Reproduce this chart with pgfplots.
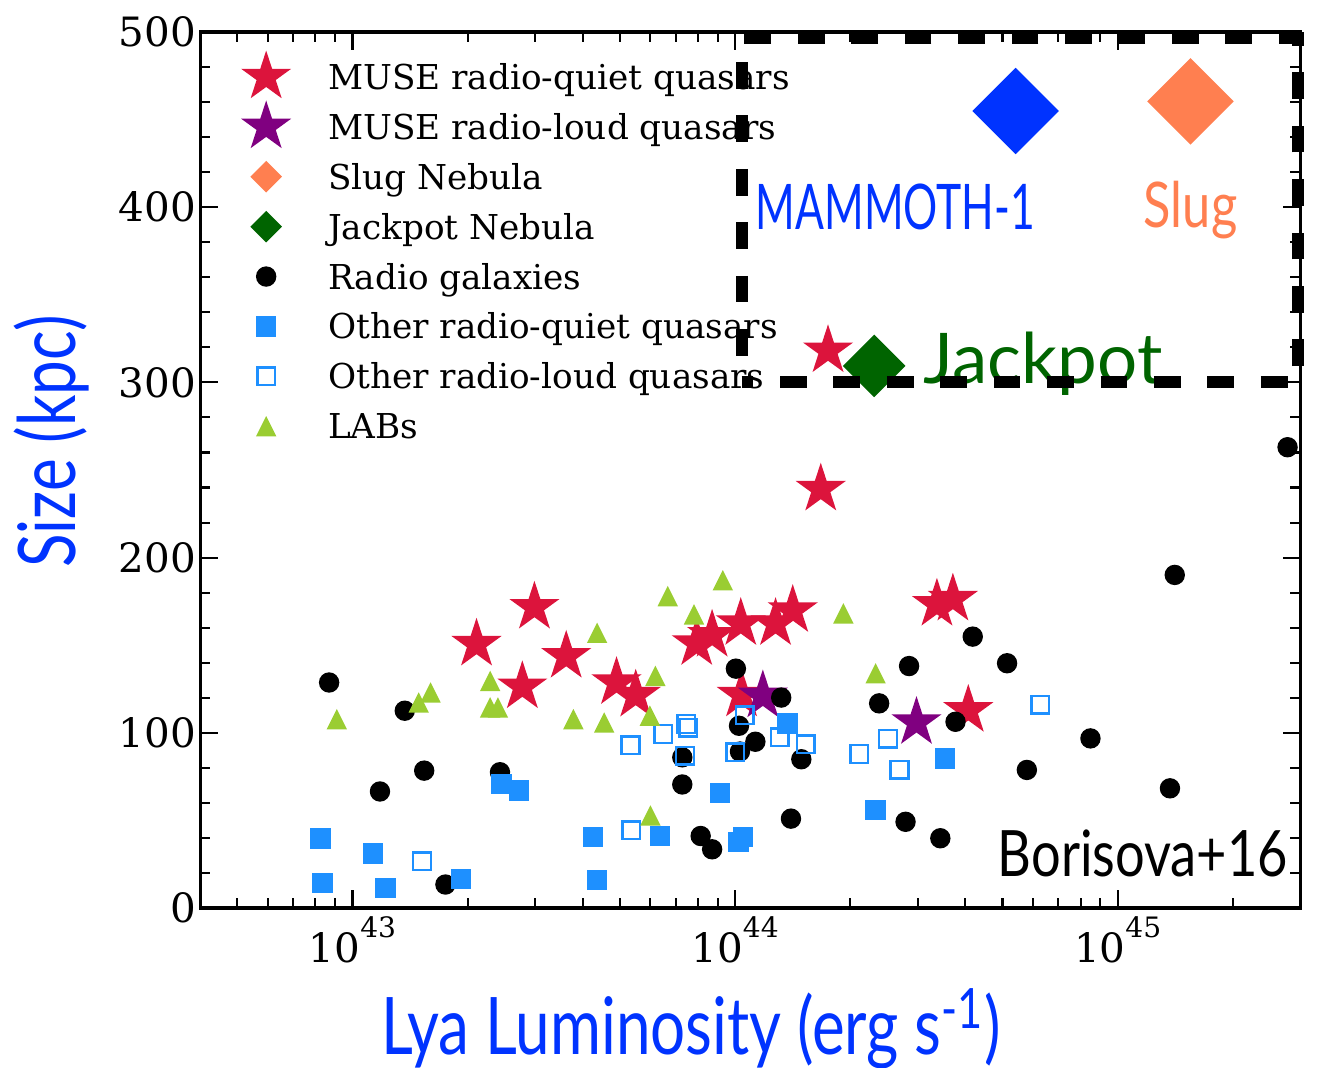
\documentclass[border=0pt]{standalone}
\usepackage{pgfplots}
\pgfplotsset{compat=1.18}
\usepackage{fontspec}
\setmainfont{DejaVu Serif}
\newfontfamily\labfont[FakeStretch=0.78]{Lato}
\usetikzlibrary{plotmarks}

\definecolor{crimson}{RGB}{220,20,60}
\definecolor{mpurple}{RGB}{128,0,128}
\definecolor{coral}{RGB}{255,127,80}
\definecolor{dgreen}{RGB}{0,100,0}
\definecolor{dodger}{RGB}{30,144,255}
\definecolor{ygreen}{RGB}{154,205,50}
\definecolor{mblue}{RGB}{0,51,255}

% filled five-pointed star
\pgfdeclareplotmark{pstar}{%
  \pgfpathmoveto{\pgfpointpolar{90}{\pgfplotmarksize}}%
  \pgfpathlineto{\pgfpointpolar{126}{0.382*\pgfplotmarksize}}%
  \pgfpathlineto{\pgfpointpolar{162}{\pgfplotmarksize}}%
  \pgfpathlineto{\pgfpointpolar{198}{0.382*\pgfplotmarksize}}%
  \pgfpathlineto{\pgfpointpolar{234}{\pgfplotmarksize}}%
  \pgfpathlineto{\pgfpointpolar{270}{0.382*\pgfplotmarksize}}%
  \pgfpathlineto{\pgfpointpolar{306}{\pgfplotmarksize}}%
  \pgfpathlineto{\pgfpointpolar{342}{0.382*\pgfplotmarksize}}%
  \pgfpathlineto{\pgfpointpolar{18}{\pgfplotmarksize}}%
  \pgfpathlineto{\pgfpointpolar{54}{0.382*\pgfplotmarksize}}%
  \pgfpathclose\pgfusepathqfill}
% square rotated by 45 degrees
\pgfdeclareplotmark{sqdiamond}{%
  \pgfpathmoveto{\pgfqpoint{0pt}{\pgfplotmarksize}}%
  \pgfpathlineto{\pgfqpoint{\pgfplotmarksize}{0pt}}%
  \pgfpathlineto{\pgfqpoint{0pt}{-\pgfplotmarksize}}%
  \pgfpathlineto{\pgfqpoint{-\pgfplotmarksize}{0pt}}%
  \pgfpathclose\pgfusepathqfill}
% upward triangle as wide as it is tall
\pgfdeclareplotmark{uptri}{%
  \pgfpathmoveto{\pgfqpoint{0pt}{\pgfplotmarksize}}%
  \pgfpathlineto{\pgfqpoint{\pgfplotmarksize}{-\pgfplotmarksize}}%
  \pgfpathlineto{\pgfqpoint{-\pgfplotmarksize}{-\pgfplotmarksize}}%
  \pgfpathclose\pgfusepathqfill}

\pgfplotsset{
  mk/.style={only marks,
    legend image code/.code={%
      \path[draw=none,fill=none] (0cm,-1pt) rectangle (0.6cm,1pt);
      \draw[overlay,mark repeat=2,mark phase=2,##1,only marks] plot coordinates {(0cm,0cm) (0.3cm,0cm) (0.6cm,0cm)};}},
  mksmall/.style={only marks,
    legend image code/.code={%
      \path[draw=none,fill=none] (0cm,-1pt) rectangle (0.6cm,1pt);
      \draw[overlay,mark repeat=2,mark phase=2,##1,only marks,mark size=4.5pt] plot coordinates {(0cm,0cm) (0.3cm,0cm) (0.6cm,0cm)};}},
}

\begin{document}
\begin{tikzpicture}
\useasboundingbox (-20mm,-16mm) rectangle (112.1mm,90.8mm);
\begin{axis}[
  at={(0,0)}, anchor=south west,
  scale only axis, width=110mm, height=87.6mm,
  xmode=log, xmin=4e42, xmax=3e45, ymin=0, ymax=500,
  clip=false,
  xtick={1e43,1e44,1e45},
  xticklabels={{10\raisebox{7.1pt}{\fontsize{8}{8}\selectfont 43}},
               {10\raisebox{7.1pt}{\fontsize{8}{8}\selectfont 44}},
               {10\raisebox{7.1pt}{\fontsize{8}{8}\selectfont 45}}},
  minor xtick={5e42,6e42,7e42,8e42,9e42,2e43,3e43,4e43,5e43,6e43,7e43,8e43,9e43,
               2e44,3e44,4e44,5e44,6e44,7e44,8e44,9e44,2e45},
  ytick={0,100,200,300,400,500}, minor y tick num=4,
  tick align=inside, xtick pos=both, ytick pos=both,
  xticklabel pos=lower, yticklabel pos=left,
  major tick length=5pt, minor tick length=2.8pt,
  axis line style={line width=0.9pt},
  every tick/.style={black, line width=0.6pt},
  /pgf/number format/assume math mode=true,
  yticklabel style={font=\fontsize{11.5}{12}\selectfont, anchor=east, inner sep=0pt, xshift=-1.0pt},
  xticklabel style={font=\fontsize{11.5}{12}\selectfont, anchor=north, inner sep=0pt, yshift=-2.2pt},
  xlabel={Lya Luminosity (erg s\textsuperscript{-1})},
  ylabel={Size (kpc)},
  x label style={at={(axis description cs:0.4464,-0.1678)}, anchor=base, inner sep=0pt,
                 font=\labfont\fontsize{22.6}{24}\selectfont, text=mblue},
  y label style={at={(axis description cs:-0.1136,0.5325)}, anchor=base, rotate=0, inner sep=0pt,
                 font=\labfont\fontsize{22.6}{24}\selectfont, text=mblue},
  legend cell align=left,
  legend style={draw=none, fill=none, at={(rel axis cs:0.0327,0.9772)}, anchor=north west,
                inner sep=0pt, outer sep=0pt, row sep=0pt, column sep=9.1pt,
                font=\fontsize{9.75}{11}\selectfont,
                nodes={inner sep=0pt, text height=10.65pt, text depth=3.55pt}},
]

% MUSE radio-quiet quasars
\addplot[mk, mark=pstar, mark size=7.5pt, color=crimson] coordinates {
 (2.11e43,150.6) (2.99e43,171.7) (2.78e43,126.3) (3.62e43,143.7) (4.90e43,128.7)
 (5.50e43,121.5) (7.94e43,151.0) (8.71e43,155.7) (1.035e44,162.4) (1.04e44,121.6)
 (1.276e44,162.4) (1.415e44,169.8) (1.675e44,239.1) (1.75e44,318.1)
 (3.37e44,173.4) (3.71e44,176.3) (4.07e44,112.8)};
\addlegendentry{MUSE radio-quiet quasars}

% MUSE radio-loud quasars
\addplot[mk, mark=pstar, mark size=7.5pt, color=mpurple] coordinates {
 (1.182e44,121.1) (2.98e44,105.9)};
\addlegendentry{MUSE radio-loud quasars}

% Slug Nebula
\addplot[mksmall, mark=sqdiamond, mark size=12.3pt, color=coral] coordinates {(1.55e45,460.4)};
\addlegendentry{Slug Nebula}

% Jackpot Nebula
\addplot[mksmall, mark=sqdiamond, mark size=8.9pt, color=dgreen] coordinates {(2.31e44,309.4)};
\addlegendentry{Jackpot Nebula}

% Radio galaxies
\addplot[mk, mark=*, mark size=2.7pt, color=black] coordinates {
 (8.69e42,128.7) (1.18e43,66.5) (1.37e43,112.6) (1.54e43,78.4) (1.75e43,13.4)
 (2.43e43,77.5) (7.28e43,86.0) (7.28e43,70.5) (8.13e43,41.1) (8.71e43,33.5)
 (1.005e44,136.6) (1.024e44,104.0) (1.03e44,89.3) (1.13e44,94.9) (1.32e44,120.1)
 (1.40e44,51.0) (1.49e44,84.9) (2.38e44,116.8) (2.79e44,49.2) (2.85e44,138.1)
 (3.44e44,39.8) (3.77e44,106.3) (4.18e44,154.9) (5.14e44,139.7) (5.79e44,78.8)
 (8.49e44,96.8) (1.37e45,68.3) (1.41e45,190.1) (2.78e45,263.0)};
\addlegendentry{Radio galaxies}

% Other radio-quiet quasars
\addplot[mk, mark=square*, mark size=2.7pt, color=dodger] coordinates {
 (8.26e42,39.6) (8.36e42,14.3) (1.13e43,31.0) (1.22e43,11.5) (1.92e43,16.4)
 (2.45e43,70.8) (2.72e43,67.1) (4.25e43,40.5) (4.35e43,15.9) (6.37e43,41.1)
 (9.12e43,65.8) (1.02e44,37.7) (1.05e44,40.5) (1.37e44,105.4) (2.33e44,55.9)
 (3.54e44,85.4)};
\addlegendentry{Other radio-quiet quasars}

% Other radio-loud quasars
\addplot[mk, mark=square, mark size=2.5pt, color=dodger, mark options={line width=0.7pt}] coordinates {
 (1.52e43,26.7) (5.33e43,93.0) (5.36e43,44.3) (6.49e43,99.3) (7.45e43,105.0)
 (7.55e43,103.0) (7.40e43,87.0) (1.0e44,88.9) (1.06e44,110.1) (1.31e44,97.4)
 (1.53e44,93.4) (2.11e44,87.9) (2.51e44,96.5) (2.69e44,78.8) (6.28e44,115.9)};
\addlegendentry{Other radio-loud quasars}

% LABs
\addplot[mk, mark=uptri, mark size=2.9pt, color=ygreen] coordinates {
 (9.10e42,107.8) (1.49e43,117.3) (1.60e43,123.0) (2.29e43,129.6) (2.29e43,114.5)
 (2.40e43,114.5) (3.78e43,107.8) (4.36e43,157.1) (4.55e43,105.9) (6.01e43,52.8)
 (6.19e43,132.5) (5.99e43,109.8) (6.67e43,178.0) (7.81e43,167.6) (9.29e43,187.1)
 (1.92e44,168.2) (2.33e44,134.0)};
\addlegendentry{LABs}

% MAMMOTH-1 nebula
\addplot[only marks, mark=sqdiamond, mark size=12.3pt, color=mblue, forget plot] coordinates {(5.41e44,454.9)};

\node[anchor=base west, inner sep=0pt, text=mblue, font=\labfont\fontsize{17.9}{18}\selectfont]
  at (rel axis cs:0.5045,0.774) {\scalebox{0.87}[1]{MAMMOTH-1}};
\node[anchor=base west, inner sep=0pt, text=coral, font=\labfont\fontsize{17.9}{18}\selectfont]
  at (rel axis cs:0.8573,0.7763) {\scalebox{1.03}[1]{Slug}};
\node[anchor=base west, inner sep=0pt, text=dgreen, font=\labfont\fontsize{19.9}{20}\selectfont]
  at (rel axis cs:0.6573,0.5993) {\scalebox{1.3}[1]{Jackpot}};
\node[anchor=base west, inner sep=0pt, text=black, font=\labfont\fontsize{18.2}{19}\selectfont]
  at (rel axis cs:0.7245,0.0365) {\scalebox{1.05}[1]{Borisova+16}};

\coordinate (bl) at (axis cs:1.042e44,300);
\coordinate (tr) at (axis cs:2.963e45,496.5);
\end{axis}
% giant-nebula region
\draw[black, line width=3.4pt, dash pattern=on 7.6pt off 7.6pt, dash phase=4.3pt]
  (bl) -- (bl -| tr) -- (tr) -- (tr -| bl) -- cycle;
\end{tikzpicture}
\end{document}
